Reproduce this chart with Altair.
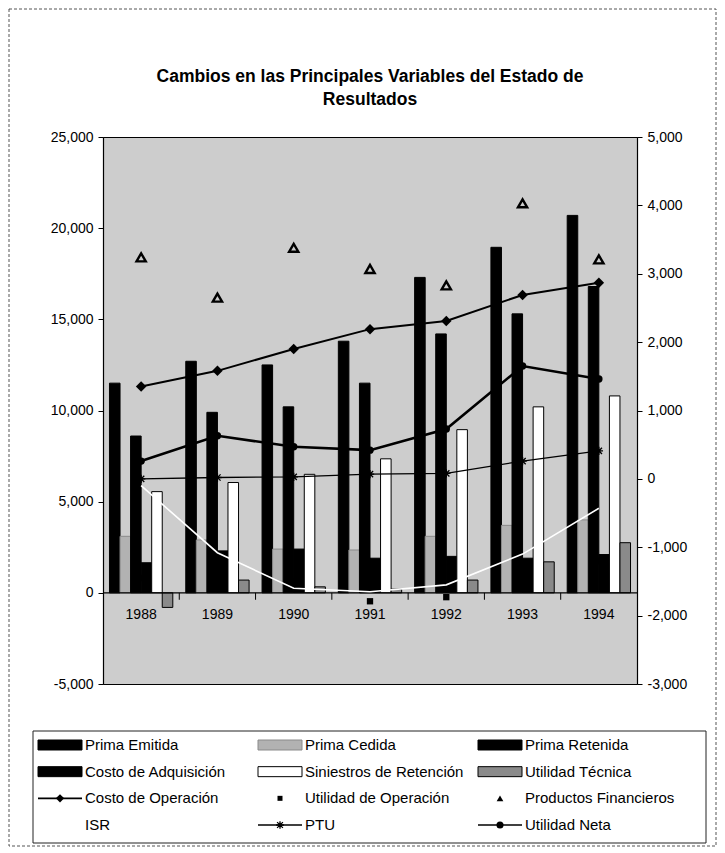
import altair as alt
import pandas as pd

# ---------------- data ----------------
years = ["1988", "1989", "1990", "1991", "1992", "1993", "1994"]

bar_series = ["Prima Emitida", "Prima Cedida", "Prima Retenida",
              "Costo de Adquisición", "Siniestros de Retención", "Utilidad Técnica"]
prima_emitida = [11500, 12700, 12500, 13800, 17300, 18950, 20700]
prima_cedida = [3100, 2900, 2400, 2350, 3100, 3700, 4000]
prima_retenida = [8600, 9900, 10200, 11500, 14200, 15300, 16800]
costo_adquisicion = [1650, 2300, 2400, 1900, 2000, 1900, 2100]
siniestros_retencion = [5550, 6050, 6500, 7350, 8950, 10200, 10800]
utilidad_tecnica = [-800, 700, 330, 200, 700, 1700, 2750]

line_series = ["Costo de Operación", "Utilidad de Operación", "Productos Financieros",
               "ISR", "PTU", "Utilidad Neta"]
costo_operacion = [1350, 1580, 1900, 2190, 2310, 2690, 2870]
utilidad_operacion = [-1450, -1350, -1500, -1790, -1730, -1300, -1200]
productos_financieros = [3240, 2650, 3380, 3070, 2830, 4030, 3210]
isr = [-100, -1080, -1600, -1650, -1550, -1100, -430]
ptu = [0, 20, 30, 70, 80, 260, 410]
utilidad_neta = [260, 630, 470, 420, 730, 1650, 1460]

left_ticks = [-5000, 0, 5000, 10000, 15000, 20000, 25000]
right_ticks = [-3000, -2000, -1000, 0, 1000, 2000, 3000, 4000, 5000]

title_lines = ["Cambios en las Principales Variables del Estado de", "Resultados"]

bar_fills = ["#000000", "#b2b2b2", "#000000", "#000000", "#ffffff", "#8a8a8a"]
bar_strokes = ["#000000", "#8a8a8a", "#000000", "#000000", "#000000", "#000000"]

FONT = "Liberation Sans"

# ---------------- tables ----------------
bar_vals = [prima_emitida, prima_cedida, prima_retenida,
            costo_adquisicion, siniestros_retencion, utilidad_tecnica]
bars_df = pd.DataFrame([
    {"year": y, "series": s, "value": v}
    for s, vals in zip(bar_series, bar_vals) for y, v in zip(years, vals)
])
line_vals = [costo_operacion, utilidad_operacion, productos_financieros, isr, ptu, utilidad_neta]
lines_df = pd.DataFrame([
    {"year": y, "series": s, "value": v}
    for s, vals in zip(line_series, line_vals) for y, v in zip(years, vals)
])
years_df = pd.DataFrame({"year": years})
legend_order = bar_series + line_series
legend_df = pd.DataFrame([
    {"series": s, "col": i % 3, "row": i // 3} for i, s in enumerate(legend_order)
])
one = pd.DataFrame({"k": [0]})

# ---------------- main plot ----------------
X = alt.X("year:N", sort=years, axis=None,
          scale=alt.Scale(paddingInner=0.17, paddingOuter=0.085))

LBL = "datum.value < 0 ? '-' + format(-datum.value, ',') : format(datum.value, ',')"
YL = alt.Y("value:Q",
           scale=alt.Scale(domain=[-5000, 25000], nice=False, zero=False),
           axis=alt.Axis(values=left_ticks, grid=False, title=None, orient="left",
                         labelExpr=LBL, tickSize=5, labelPadding=5))
YR = alt.Y("value:Q",
           scale=alt.Scale(domain=[-3000, 5000], nice=False, zero=False),
           axis=alt.Axis(values=right_ticks, grid=False, title=None, orient="right",
                         labelExpr=LBL, tickSize=5, labelPadding=5))

bars = alt.Chart(bars_df).mark_bar(strokeWidth=1).encode(
    x=X,
    xOffset=alt.XOffset("series:N", sort=bar_series,
                        scale=alt.Scale(domain=bar_series, paddingInner=0, paddingOuter=0)),
    y=YL,
    fill=alt.Fill("series:N", scale=alt.Scale(domain=bar_series, range=bar_fills), legend=None),
    stroke=alt.Stroke("series:N", scale=alt.Scale(domain=bar_series, range=bar_strokes), legend=None),
)

zero_line = alt.Chart(one).mark_rule(color="black", strokeWidth=1.2).encode(y=alt.datum(0))

cat_ticks = alt.Chart(years_df).transform_filter(alt.datum.year != "1988").mark_rule(
    color="black", strokeWidth=1, xOffset=-6.5
).encode(
    x=alt.X("year:N", sort=years, axis=None, bandPosition=0,
            scale=alt.Scale(paddingInner=0.17, paddingOuter=0.085)),
    y=alt.datum(0), y2=alt.datum(-380),
)

year_labels = alt.Chart(years_df).mark_text(
    font=FONT, fontSize=14, color="black", dy=22, baseline="middle"
).encode(x=X, y=alt.datum(0), text="year:N")

left_layer = alt.layer(bars, zero_line, cat_ticks, year_labels)


def sel(name):
    return alt.Chart(lines_df).transform_filter(alt.datum.series == name)


asterisk = "M-1,0L1,0M0,-1L0,1M-0.75,-0.75L0.75,0.75M-0.75,0.75L0.75,-0.75"

right_parts = [
    sel("ISR").mark_line(color="white", strokeWidth=1.6).encode(x=X, y=YR),
    sel("PTU").mark_line(color="black", strokeWidth=1.3).encode(x=X, y=YR),
    sel("PTU").mark_point(shape=asterisk, filled=False, color="black", strokeWidth=1.3,
                          size=70, opacity=1).encode(x=X, y=YR),
    sel("Utilidad Neta").mark_line(color="black", strokeWidth=2.6).encode(x=X, y=YR),
    sel("Utilidad Neta").mark_point(shape="circle", filled=True, color="black", size=55,
                                    opacity=1).encode(x=X, y=YR),
    sel("Costo de Operación").mark_line(color="black", strokeWidth=2).encode(x=X, y=YR),
    sel("Costo de Operación").mark_point(shape="diamond", filled=True, color="black", size=110,
                                         opacity=1).encode(x=X, y=YR),
    sel("Utilidad de Operación").mark_point(shape="square", filled=True, color="black", size=40,
                                            opacity=1).encode(x=X, y=YR),
    sel("Productos Financieros").mark_point(shape="triangle-up", filled=False, color="black",
                                            strokeWidth=2.4, size=85, opacity=1).encode(x=X, y=YR),
]
right_layer = alt.layer(*right_parts)

main = alt.layer(left_layer, right_layer).resolve_scale(y="independent")

# ---------------- legend ----------------
LX = alt.X("col:Q", scale=alt.Scale(domain=[0, 2], range=[-43, 397]), axis=None)
LX2 = alt.X2("col:Q")
LY = alt.Y("row:Q", scale=alt.Scale(domain=[0, 3], range=[608, 688]), axis=None)
LY2 = alt.Y2("row:Q")

legend_box = alt.Chart(one).mark_rect(fill="white", stroke="#222222", strokeWidth=1).encode(
    x=alt.value(-70), x2=alt.value(603), y=alt.value(594), y2=alt.value(706))

swatches = alt.Chart(legend_df).transform_filter(
    alt.FieldOneOfPredicate(field="series", oneOf=bar_series)
).mark_rect(strokeWidth=1, xOffset=-22, x2Offset=22, yOffset=-5, y2Offset=5).encode(
    x=LX, x2=LX2, y=LY, y2=LY2,
    fill=alt.Fill("series:N", scale=alt.Scale(domain=bar_series, range=bar_fills), legend=None),
    stroke=alt.Stroke("series:N", scale=alt.Scale(domain=bar_series, range=bar_strokes), legend=None),
)


def lsel(name):
    return alt.Chart(legend_df).transform_filter(alt.datum.series == name)


leg_lines = [
    lsel("Costo de Operación").mark_rule(color="black", strokeWidth=1.6, xOffset=-22, x2Offset=22).encode(x=LX, x2=LX2, y=LY),
    lsel("PTU").mark_rule(color="black", strokeWidth=1.3, xOffset=-22, x2Offset=22).encode(x=LX, x2=LX2, y=LY),
    lsel("Utilidad Neta").mark_rule(color="black", strokeWidth=1.6, xOffset=-22, x2Offset=22).encode(x=LX, x2=LX2, y=LY),
    lsel("ISR").mark_rule(color="white", strokeWidth=1.3, xOffset=-22, x2Offset=22).encode(x=LX, x2=LX2, y=LY),
    lsel("Costo de Operación").mark_point(shape="diamond", filled=True, color="black", size=70, opacity=1).encode(x=LX, y=LY),
    lsel("PTU").mark_point(shape=asterisk, filled=False, color="black", strokeWidth=1.3, size=60, opacity=1).encode(x=LX, y=LY),
    lsel("Utilidad Neta").mark_point(shape="circle", filled=True, color="black", size=50, opacity=1).encode(x=LX, y=LY),
    lsel("Utilidad de Operación").mark_point(shape="square", filled=True, color="black", size=25, opacity=1).encode(x=LX, y=LY),
    lsel("Productos Financieros").mark_point(shape="triangle-up", filled=True, color="black", size=45, opacity=1).encode(x=LX, y=LY),
]

leg_text = alt.Chart(legend_df).mark_text(
    font=FONT, fontSize=15, color="black", align="left", baseline="middle", dx=25
).encode(x=LX, y=LY, text="series:N")

legend = alt.layer(legend_box, swatches, *leg_lines, leg_text)

# ---------------- title and frame ----------------
title = alt.Chart(one).mark_text(
    font=FONT, fontSize=17.5, fontWeight="bold", color="black", align="center",
    baseline="middle", lineHeight=23
).encode(x=alt.value(267), y=alt.value(-60), text=alt.value(title_lines))

frame = alt.Chart(one).mark_rect(fillOpacity=0, stroke="#555555", strokeWidth=1, strokeDash=[3, 2]).encode(
    x=alt.value(-94), x2=alt.value(613), y=alt.value(-128), y2=alt.value(709))

chart = alt.layer(main, legend, title, frame).resolve_scale(
    x="independent", y="independent"
).properties(
    width=534, height=547,
    autosize=alt.AutoSizeParams(type="none"),
    padding={"left": 103, "top": 137, "right": 88, "bottom": 169},
    background="white",
).configure_view(
    fill="#cdcdcd", stroke="black", strokeWidth=1
).configure_axis(
    labelFont=FONT, labelFontSize=14, labelColor="black",
    domainColor="black", domainWidth=1.2, tickColor="black", tickWidth=1,
)

chart.save("out.html", embed_options={"renderer": "svg", "actions": False})
